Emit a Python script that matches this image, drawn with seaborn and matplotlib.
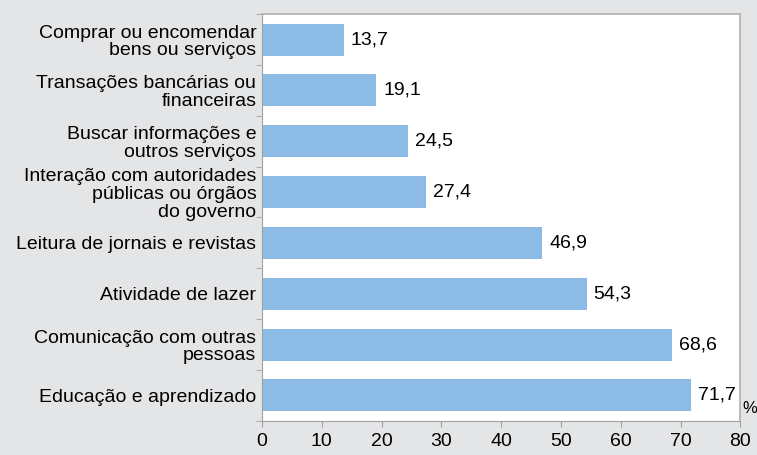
import pandas as pd
import seaborn as sns
import matplotlib.pyplot as plt

categories = ["Comprar ou encomendar\nbens ou serviços",
              "Transações bancárias ou\nfinanceiras",
              "Buscar informações e\noutros serviços",
              "Interação com autoridades\npúblicas ou órgãos\ndo governo",
              "Leitura de jornais e revistas",
              "Atividade de lazer",
              "Comunicação com outras\npessoas",
              "Educação e aprendizado"]
values = [13.7, 19.1, 24.5, 27.4, 46.9, 54.3, 68.6, 71.7]
xticks = [0, 10, 20, 30, 40, 50, 60, 70, 80]

df = pd.DataFrame({"Categoria": categories, "Valor": values})

plt.rcParams['font.family'] = ['Liberation Sans', 'DejaVu Sans']
plt.figure(figsize=(7.57, 4.55), dpi=100, facecolor='#e4e5e7')
plt.subplots_adjust(left=0.346, right=0.978, top=0.969, bottom=0.075)

# Horizontal bars
ax = sns.barplot(data=df, x='Valor', y='Categoria', color='#8cbce6', saturation=1, width=0.63)
ax.bar_label(ax.containers[0], labels=[f"{v:.1f}".replace('.', ',') for v in values],
             padding=5, fontsize=14)

plt.xlim(0, 80)
plt.xticks(xticks, fontsize=14)
plt.yticks(fontsize=14, linespacing=1.05)
plt.xlabel("")
plt.ylabel("")
ax.set_yticks([i + 0.5 for i in range(-1, len(categories))], minor=True)
ax.tick_params(axis='y', which='major', length=0, pad=4)
ax.tick_params(axis='y', which='minor', length=4, color='#a0a0a0')
ax.tick_params(axis='x', length=4, color='#a0a0a0', pad=5)
for side in ['top', 'right']:
    ax.spines[side].set_color('#b0b0b0')
    ax.spines[side].set_linewidth(1.2)
for side in ['left', 'bottom']:
    ax.spines[side].set_color('#a0a0a0')
    ax.spines[side].set_linewidth(0.8)
plt.text(1.004, 0.02, "%", transform=ax.transAxes, fontsize=12)

plt.savefig("out.png", facecolor='#e4e5e7')
